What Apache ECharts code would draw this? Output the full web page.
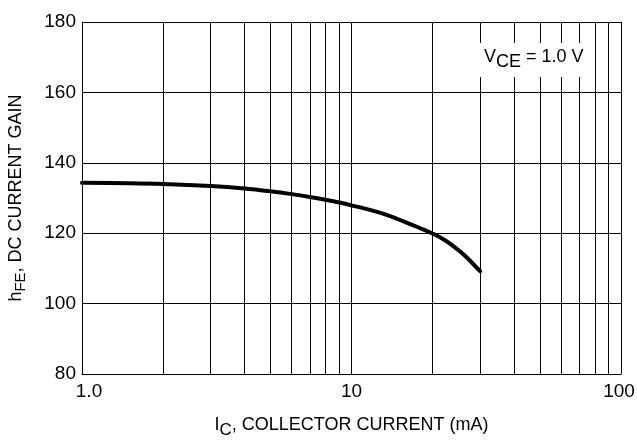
<!DOCTYPE html>
<html>
<head>
<meta charset="utf-8">
<script src="https://cdn.jsdelivr.net/npm/echarts@6/dist/echarts.min.js"></script>
<style>
html,body{margin:0;padding:0;background:#fff;}
#c{width:637px;height:445px;}
</style>
</head>
<body>
<div id="c"></div>
<script>
var icValues = [1, 1.5, 2, 3, 4, 5, 6, 7, 8, 9, 10, 12, 14, 16, 18, 20, 22, 24, 26, 28, 30];
var hfeValues = [134.3, 134.2, 134.0, 133.4, 132.7, 131.9, 131.1, 130.3, 129.5, 128.7, 127.9, 126.4, 124.8, 123.0, 121.4, 119.9, 118.2, 116.2, 114.0, 111.6, 109.2];
var minorGridX = [2, 3, 4, 5, 6, 7, 8, 9, 20, 30, 40, 50, 60, 70, 80, 90];
var xTickLabels = {1: '1.0', 10: '10', 100: '100'};
var yMin = 80, yMax = 180, yStep = 20;

var FONT = "'Liberation Sans', Arial, sans-serif";

var chart = echarts.init(document.getElementById('c'), null, {renderer: 'canvas'});
var option = {
  backgroundColor: '#fff',
  animation: false,
  grid: {left: 82, right: 16, top: 22, bottom: 71, containLabel: false, outerBoundsMode: 'none'},
  xAxis: {
    type: 'log', logBase: 10, min: 1, max: 100,
    axisLine: {show: true, lineStyle: {color: '#000', width: 1}},
    axisTick: {show: false},
    splitLine: {show: true, lineStyle: {color: '#000', width: 1}},
    axisLabel: {
      margin: 8, color: '#000', fontFamily: FONT, fontSize: 19,
      showMinLabel: true, showMaxLabel: true, hideOverlap: false,
      formatter: function (v) {
        var s = xTickLabels[Math.round(v)] || '';
        if (Math.round(v) === 1) return '{l|' + s + '}';
        if (Math.round(v) === 100) return '{r|' + s + '}';
        return s;
      },
      rich: {
        l: {fontFamily: FONT, fontSize: 19, color: '#000', padding: [0, 0, 0, 14]},
        r: {fontFamily: FONT, fontSize: 19, color: '#000', padding: [0, 4, 0, 0]}
      }
    },
    name: '{n|I}{s|C}{n|, COLLECTOR CURRENT (mA)}',
    nameLocation: 'middle', nameGap: 38,
    nameTextStyle: {
      rich: {
        n: {fontFamily: FONT, fontSize: 18, color: '#000'},
        s: {fontFamily: FONT, fontSize: 17, color: '#000', padding: [10, 0, 0, 0]}
      }
    }
  },
  yAxis: {
    type: 'value', min: yMin, max: yMax, interval: yStep,
    axisLine: {show: true, lineStyle: {color: '#000', width: 1}},
    axisTick: {show: false},
    splitLine: {show: true, lineStyle: {color: '#000', width: 1}},
    axisLabel: {margin: 6, color: '#000', fontFamily: FONT, fontSize: 19},
    name: '{n|h}{s|FE}{n|, DC CURRENT GAIN}',
    nameLocation: 'middle', nameGap: 54, nameRotate: 90,
    nameTextStyle: {
      rich: {
        n: {fontFamily: FONT, fontSize: 18, color: '#000'},
        s: {fontFamily: FONT, fontSize: 15, color: '#000', padding: [9, 0, 0, 0]}
      }
    }
  },
  series: [
    {
      type: 'line',
      data: icValues.map(function (x, i) { return [x, hfeValues[i]]; }),
      smooth: 0.3,
      showSymbol: false,
      lineStyle: {color: '#000', width: 4, cap: 'round'},
      z: 5,
      markLine: {
        silent: true, symbol: ['none', 'none'], animation: false,
        label: {show: false},
        lineStyle: {color: '#000', width: 1, type: 'solid'},
        data: minorGridX.map(function (v) { return {xAxis: v}; })
      }
    }
  ],
  graphic: [
    {
      type: 'rect', z: 100,
      shape: {x: 480, y: 43, width: 102, height: 34},
      style: {fill: '#fff'}
    },
    {
      type: 'text', z: 101, left: 484, top: 48,
      style: {
        text: '{n|V}{s|CE}{n| = 1.0 V}',
        rich: {
          n: {fontFamily: FONT, fontSize: 18, fill: '#000', color: '#000'},
          s: {fontFamily: FONT, fontSize: 18, fill: '#000', color: '#000', padding: [10, 0, 0, 0]}
        }
      }
    }
  ]
};
chart.setOption(option);
</script>
</body>
</html>
